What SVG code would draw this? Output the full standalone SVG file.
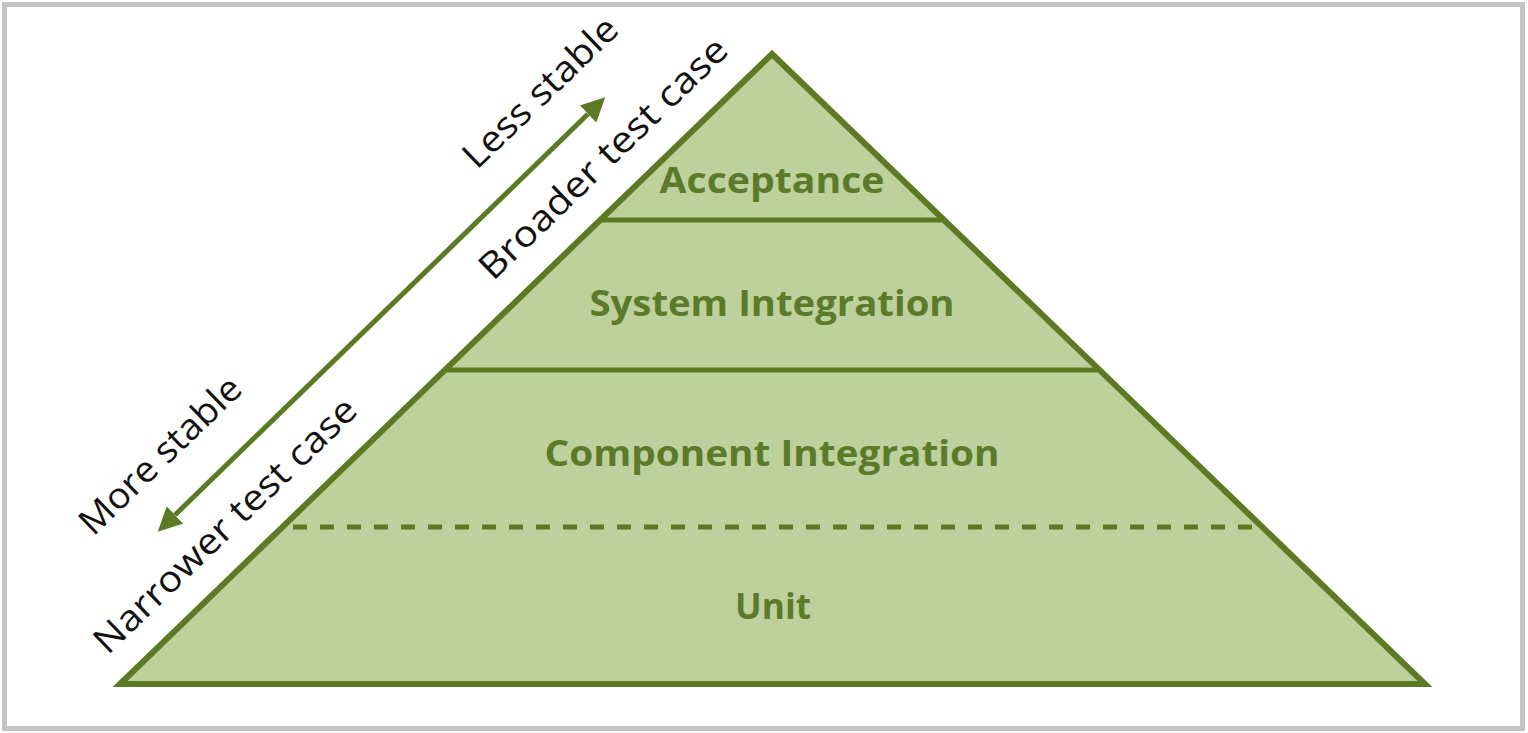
<svg xmlns="http://www.w3.org/2000/svg" width="1528" height="733" viewBox="0 0 1528 733">
<defs>
<style>
.lvl{font-family:"Open Sans","Liberation Sans",sans-serif;font-weight:bold;font-size:36px;fill:#5b7a2a;text-anchor:middle;}
.side{font-family:"Open Sans","Liberation Sans",sans-serif;font-size:36px;fill:#111;text-anchor:middle;}
.edge{stroke:#5c7a24;stroke-width:5;fill:none;}
</style>
<marker id="ah" viewBox="0 0 10 10" refX="0" refY="5" markerWidth="24" markerHeight="27" markerUnits="userSpaceOnUse" orient="auto-start-reverse">
<path d="M0,0 L10,5 L0,10 Z" fill="#5c7a24"/>
</marker>
</defs>
<rect x="0" y="0" width="1528" height="733" fill="#ffffff"/>
<rect x="4.5" y="4.5" width="1518" height="724" fill="#ffffff" stroke="#c3c3c3" stroke-width="5"/>
<g id="pyramid">
<polygon points="120,684 772,54 1425,684" fill="#bcd19b" stroke="#5c7a24" stroke-width="6" stroke-linejoin="miter"/>
</g>
<g id="dividers">
<line class="edge" x1="600" y1="220" x2="944" y2="220"/>
<line class="edge" x1="445" y1="370" x2="1100" y2="370"/>
<line class="edge" x1="293" y1="527" x2="1262" y2="527" stroke-dasharray="14 13"/>
</g>
<g id="acceptance"><text class="lvl" x="772" y="193" textLength="225" lengthAdjust="spacingAndGlyphs">Acceptance</text></g>
<g id="system-integration"><text class="lvl" x="772" y="316" textLength="365" lengthAdjust="spacingAndGlyphs">System Integration</text></g>
<g id="component-integration"><text class="lvl" x="772" y="466" textLength="455" lengthAdjust="spacingAndGlyphs">Component Integration</text></g>
<g id="unit"><text class="lvl" x="773" y="619" textLength="76" lengthAdjust="spacingAndGlyphs">Unit</text></g>
<g id="connectors">
<line x1="175" y1="515" x2="588" y2="114" stroke="#5c7a24" stroke-width="5" marker-start="url(#ah)" marker-end="url(#ah)"/>
</g>
<g id="labels">
<text class="side" transform="translate(540,92) rotate(-44)" dy="0.35em" textLength="200" lengthAdjust="spacingAndGlyphs">Less stable</text>
<text class="side" transform="translate(603,158) rotate(-44)" dy="0.35em" textLength="330" lengthAdjust="spacingAndGlyphs">Broader test case</text>
<text class="side" transform="translate(160,455) rotate(-44)" dy="0.35em" textLength="210" lengthAdjust="spacingAndGlyphs">More stable</text>
<text class="side" transform="translate(225,525) rotate(-44)" dy="0.35em" textLength="350" lengthAdjust="spacingAndGlyphs">Narrower test case</text>
</g>
</svg>
